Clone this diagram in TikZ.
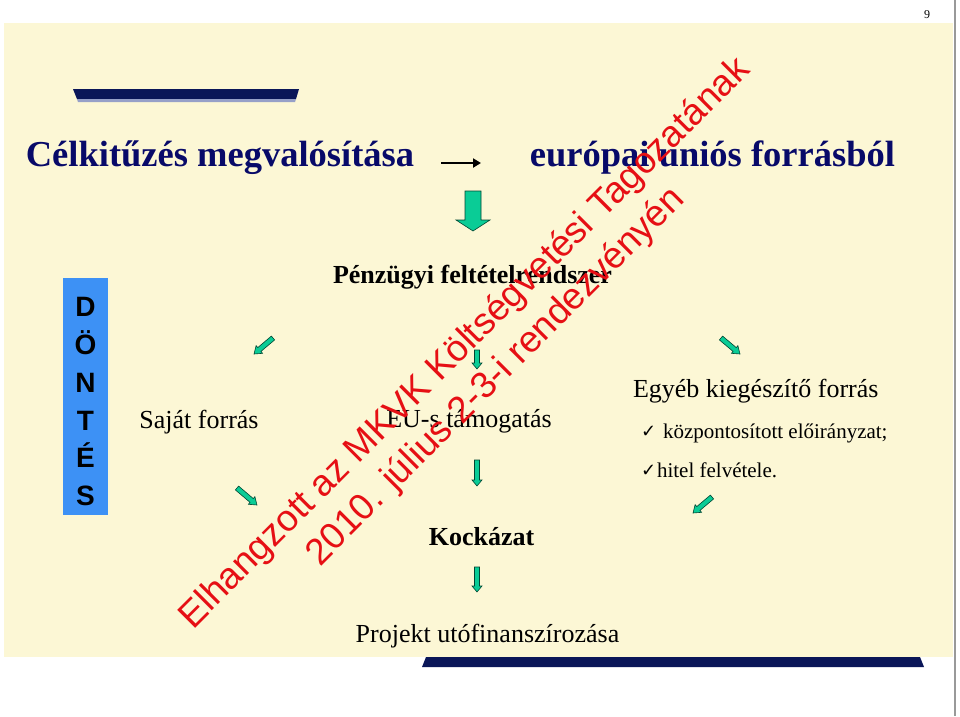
\documentclass[tikz,border=0pt]{standalone}
\usepackage{fontspec}
\setmainfont{Liberation Serif}
\newfontfamily\arialf{Liberation Sans}
\newfontfamily\dejavu{DejaVu Sans}
\usetikzlibrary{calc,arrows.meta}
\definecolor{cream}{RGB}{252,247,213}
\definecolor{navy}{RGB}{8,10,105}
\definecolor{barnavy}{RGB}{10,22,88}
\definecolor{barlight}{RGB}{150,160,200}
\definecolor{dblue}{RGB}{61,145,245}
\definecolor{agreen}{RGB}{10,204,150}
\definecolor{agreenline}{RGB}{0,70,50}
\definecolor{wred}{RGB}{230,15,20}
\tikzset{
 txt/.style={inner sep=0pt, outer sep=0pt, text=black},
 titletxt/.style={txt, text=navy, font=\fontsize{36.5}{40}\selectfont\bfseries},
 headb/.style={txt, font=\fontsize{26}{30}\selectfont\bfseries},
 bodytxt/.style={txt, font=\fontsize{26}{30}\selectfont},
 smalltxt/.style={txt, font=\fontsize{21}{24}\selectfont},
 chk/.style={txt, font=\dejavu\fontsize{18}{20}\selectfont},
 vletter/.style={txt, anchor=base, font=\arialf\bfseries\fontsize{28}{30}\selectfont},
 wmark/.style={txt, text=wred, font=\arialf\fontsize{37}{42}\selectfont, rotate=45, anchor=base west},
 garrow/.style={fill=agreen, draw=agreenline, line width=0.6pt, line join=miter},
}
\newcommand\garr[5]{%
 \coordinate (gH) at ($(#2)!#5!(#1)$);
 \draw[garrow] ($(#1)!#3!90:(#2)$) -- ($(gH)!#3!-90:(#1)$) -- ($(gH)!#4!-90:(#1)$) -- (#2) -- ($(gH)!#4!90:(#1)$) -- ($(gH)!#3!90:(#1)$) -- ($(#1)!#3!-90:(#2)$) -- cycle;}
\begin{document}
\begin{tikzpicture}[x=1pt,y=-1pt]
\useasboundingbox (0,0) rectangle (960,716);
\fill[white] (0,0) rectangle (960,716);
% slide background
\fill[cream] (4,23) rectangle (953,657);
\draw[gray!80, line width=2pt] (955,0) -- (955,716);
\node[txt, anchor=base, font=\fontsize{12}{14}\selectfont] (pnum) at (927,18) {9};
% decorative bars
\fill[barnavy] (73,89) -- (299,89) -- (296,99) -- (77,99) -- cycle;
\fill[barlight] (77,99) -- (296,99) -- (295,102) -- (78,102) -- cycle;
\fill[barnavy] (426,657) -- (920,657) -- (924,667) -- (422,667) -- cycle;
% title
\node[titletxt, anchor=base] (t1) at (220,166) {Célkitűzés megvalósítása};
\node[titletxt, anchor=base] (t2) at (712.5,166) {európai uniós forrásból};
\coordinate (ba1) at (441,163);
\coordinate (ba2) at (481,163);
\draw[line width=2.8pt, -{Triangle[length=8pt,width=9pt]}] (ba1) -- (ba2);
% big arrow
\coordinate (bigA) at (473,191);
\coordinate (bigB) at (473,231);
\garr{bigA}{bigB}{8pt}{17pt}{11pt}
% DONTES box
\fill[dblue] (63,278) rectangle (108,515);
\node[vletter] (vD) at (85.5,316) {D};
\node[vletter] (vO) at (85.5,354) {Ö};
\node[vletter] (vN) at (85.5,392) {N};
\node[vletter] (vT) at (85.5,430) {T};
\node[vletter] (vE) at (85.5,467) {É};
\node[vletter] (vS) at (85.5,505) {S};
% texts
\node[headb, anchor=base] (penz) at (472.5,283) {Pénzügyi feltételrendszer};
\node[bodytxt, anchor=base] (sajat) at (199,428) {Saját forrás};
\node[bodytxt, anchor=base] (eus) at (469,427) {EU-s támogatás};
\node[bodytxt, anchor=base west] (egyeb) at (633,397) {Egyéb kiegészítő forrás};
\node[chk, anchor=base west] (c1) at (641,437) {✓};
\node[smalltxt, anchor=base west] (kozp) at (663,438) {központosított előirányzat;};
\node[chk, anchor=base west] (c2) at (641,476) {✓};
\node[smalltxt, anchor=base west] (hitel) at (657,477) {hitel felvétele.};
\node[headb, anchor=base] (kock) at (481.5,545) {Kockázat};
\node[bodytxt, anchor=base] (proj) at (487.5,642) {Projekt utófinanszírozása};
% small arrows
\coordinate (a1s) at (273,338); \coordinate (a1e) at (254,354);
\garr{a1s}{a1e}{2.5pt}{5pt}{7pt}
\coordinate (a2s) at (477,350); \coordinate (a2e) at (477,369);
\garr{a2s}{a2e}{2.5pt}{5pt}{6pt}
\coordinate (a3s) at (721,338); \coordinate (a3e) at (740,354);
\garr{a3s}{a3e}{2.5pt}{5pt}{7pt}
\coordinate (a4s) at (237,488); \coordinate (a4e) at (257,505);
\garr{a4s}{a4e}{2.5pt}{5pt}{7pt}
\coordinate (a5s) at (477,460); \coordinate (a5e) at (477,486);
\garr{a5s}{a5e}{2.5pt}{5pt}{6pt}
\coordinate (a6s) at (712,497); \coordinate (a6e) at (693,513);
\garr{a6s}{a6e}{2.5pt}{5pt}{7pt}
\coordinate (a7s) at (477,567); \coordinate (a7e) at (477,592);
\garr{a7s}{a7e}{2.5pt}{5pt}{6pt}
% watermark
\node[wmark] (w1) at (193,630) {Elhangzott az MKVK Költségvetési Tagozatának};
\node[wmark] (w2) at (320,567) {2010. július 2-3-i rendezvényén};
\end{tikzpicture}
\end{document}
